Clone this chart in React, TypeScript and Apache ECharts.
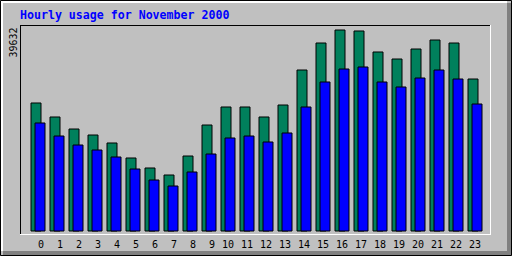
import React, { useEffect, useRef } from "react";
import * as echarts from "echarts";

const hours = ["0","1","2","3","4","5","6","7","8","9","10","11","12","13","14","15","16","17","18","19","20","21","22","23"];
const hits = [25310,22563,20208,19031,17462,14519,12557,11183,14911,20993,24525,24525,22563,24917,31784,37081,39632,39436,35316,33942,35904,37670,37081,30018];
const files = [21386,18835,17069,16088,14715,12360,10202,9025,11772,15303,18443,18835,17658,19424,24525,29430,31980,32373,29430,28449,30214,31784,30018,25113];
const yMax = 39632;
const yMaxLabel = "39632";
const titleText = "Hourly usage for November 2000";

export default function App() {
  const ref = useRef<HTMLDivElement>(null);
  useEffect(() => {
    if (!ref.current) return;
    const chart = echarts.init(ref.current, null, { renderer: "svg" });
    const mono = "'DejaVu Sans Mono', monospace";
    chart.setOption({
      animation: false,
      backgroundColor: "#c0c0c0",
      grid: { left: 28.5, right: 27.5, top: 29.5, bottom: 24.5, containLabel: false },
      xAxis: {
        type: "category",
        data: hours,
        boundaryGap: true,
        axisLine: { show: false },
        axisTick: { show: false },
        splitLine: { show: false },
        axisLabel: {
          interval: 0,
          margin: 8,
          formatter: (v: string) => `{a|${v}}`,
          rich: {
            a: { width: 12, align: "right", fontFamily: mono, fontSize: 10, color: "#000" },
          },
        },
      },
      yAxis: {
        type: "value",
        min: 0,
        max: yMax,
        show: false,
        splitLine: { show: false },
      },
      series: [
        {
          type: "bar",
          data: hits,
          barWidth: 11,
          barGap: "-63.636%",
          itemStyle: { color: "#00805c", borderColor: "#000", borderWidth: 1 },
          z: 2,
        },
        {
          type: "bar",
          data: files,
          barWidth: 11,
          barGap: "-63.636%",
          itemStyle: { color: "#0000ff", borderColor: "#000", borderWidth: 1 },
          z: 3,
        },
      ],
      graphic: [
        { type: "rect", z: 0, shape: { x: 0.5, y: 0.5, width: 511, height: 255 }, style: { fill: "none", stroke: "#000", lineWidth: 1 } },
        { type: "rect", z: 0, shape: { x: 1, y: 1, width: 506, height: 2 }, style: { fill: "#fff" } },
        { type: "rect", z: 0, shape: { x: 1, y: 1, width: 2, height: 250 }, style: { fill: "#fff" } },
        { type: "rect", z: 0, shape: { x: 507, y: 3, width: 4, height: 252 }, style: { fill: "#808080" } },
        { type: "rect", z: 0, shape: { x: 3, y: 251, width: 508, height: 4 }, style: { fill: "#808080" } },
        { type: "rect", z: 0, shape: { x: 20, y: 25, width: 471, height: 1 }, style: { fill: "#000" } },
        { type: "rect", z: 0, shape: { x: 20, y: 25, width: 1, height: 210 }, style: { fill: "#000" } },
        { type: "rect", z: 0, shape: { x: 490, y: 25, width: 1, height: 210 }, style: { fill: "#fff" } },
        { type: "rect", z: 0, shape: { x: 20, y: 234, width: 471, height: 1 }, style: { fill: "#fff" } },
        {
          type: "text",
          z: 5,
          x: 20,
          y: 14.5,
          style: { text: titleText, fill: "#0000ff", font: `bold 11.6px ${mono}`, align: "left", verticalAlign: "middle" },
        },
        {
          type: "text",
          z: 5,
          x: 13,
          y: 42.5,
          rotation: Math.PI / 2,
          style: { text: yMaxLabel, fill: "#000", font: `10px ${mono}`, align: "center", verticalAlign: "middle" },
        },
      ],
    });
    return () => chart.dispose();
  }, []);
  return <div ref={ref} style={{ position: "fixed", left: 0, top: 0, width: 512, height: 256 }} />;
}
